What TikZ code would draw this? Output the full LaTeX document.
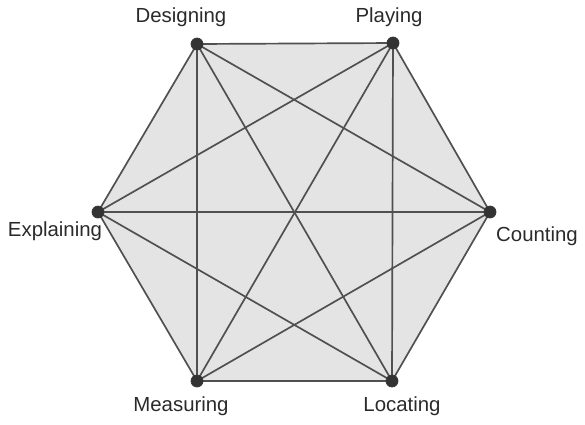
\documentclass[tikz,border=0pt]{standalone}
\usepackage{fontspec}
\setmainfont{Liberation Sans}
\usetikzlibrary{positioning}
\definecolor{hexfill}{HTML}{E4E4E4}
\definecolor{edgegray}{HTML}{505050}
\definecolor{dotdark}{HTML}{333333}
\definecolor{labeltext}{HTML}{2A2A2A}
\tikzset{
  vertex/.style={circle, fill=dotdark, draw=black!80, line width=0.5pt,
                 inner sep=0pt, minimum size=0.3cm},
  link/.style={draw=edgegray, line width=1.2pt},
  vlabel/.style={font=\fontsize{14.5}{17}\selectfont, text=labeltext, inner sep=1pt},
}
\begin{document}
\begin{tikzpicture}[x=0.025cm, y=-0.025cm]
\useasboundingbox (0,0) rectangle (585,424);

% --- corners of the hexagon ---
\coordinate (des) at (197,44);
\coordinate (ply) at (393,43);
\coordinate (cnt) at (490,212);
\coordinate (loc) at (392,381);
\coordinate (mea) at (197,381);
\coordinate (exp) at (98,212);

% --- grey face ---
\fill[hexfill] (des) -- (ply) -- (cnt) -- (loc) -- (mea) -- (exp) -- cycle;

% --- every pair joined ---
\draw[link] (des) -- (ply);
\draw[link] (des) -- (cnt);
\draw[link] (des) -- (loc);
\draw[link] (des) -- (mea);
\draw[link] (des) -- (exp);
\draw[link] (ply) -- (cnt);
\draw[link] (ply) -- (loc);
\draw[link] (ply) -- (mea);
\draw[link] (ply) -- (exp);
\draw[link] (cnt) -- (loc);
\draw[link] (cnt) -- (mea);
\draw[link] (cnt) -- (exp);
\draw[link] (loc) -- (mea);
\draw[link] (loc) -- (exp);
\draw[link] (mea) -- (exp);

% --- dots ---
\node[vertex] (desdot) at (des) {};
\node[vertex] (plydot) at (ply) {};
\node[vertex] (cntdot) at (cnt) {};
\node[vertex] (locdot) at (loc) {};
\node[vertex] (meadot) at (mea) {};
\node[vertex] (expdot) at (exp) {};

% --- names ---
\node[vlabel] (deslbl) at (181,17) {Designing};
\node[vlabel] (plylbl) at (389,17) {Playing};
\node[vlabel] (cntlbl) at (537,236) {Counting};
\node[vlabel] (loclbl) at (402,406) {Locating};
\node[vlabel] (mealbl) at (181,406) {Measuring};
\node[vlabel] (explbl) at (55,231) {Explaining};

\end{tikzpicture}
\end{document}
